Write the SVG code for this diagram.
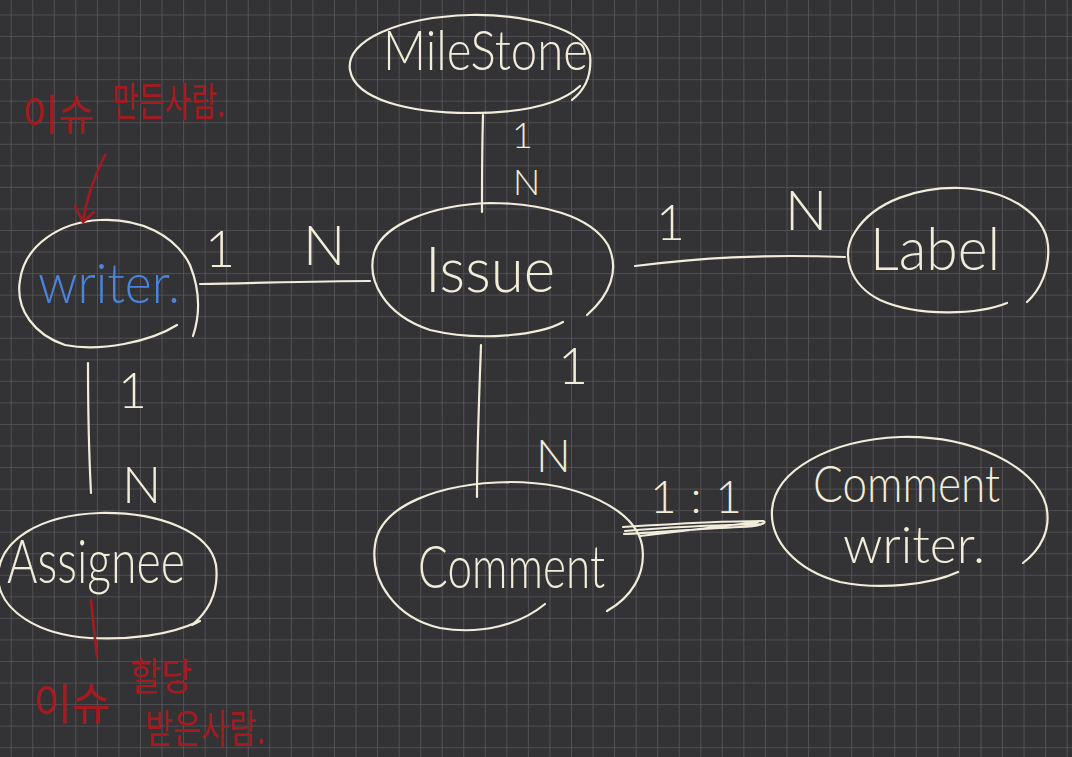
<svg xmlns="http://www.w3.org/2000/svg" width="1072" height="757" viewBox="0 0 1072 757">
<defs>
<pattern id="grid" x="10.7" y="14.5" width="21.55" height="21.55" patternUnits="userSpaceOnUse">
<path d="M0,0 H21.55 M0,0 V21.55" stroke="#58585c" stroke-width="1.6" fill="none"/>
</pattern>
<style>
.ink{fill:none;stroke:#f1edda;stroke-width:2.2;stroke-linecap:round;stroke-linejoin:round}
.red{fill:none;stroke:#a31a1f;stroke-width:2.6;stroke-linecap:round;stroke-linejoin:round}
.t{font-family:Lato,"Liberation Sans","Noto Sans",sans-serif;font-weight:300;fill:#f1edda}
.b{fill:#4a84dd}
.rt{font-family:"Noto Sans CJK KR","Noto Sans",sans-serif;fill:#a31a1f;font-weight:400}
</style>
</defs>
<rect width="1072" height="757" fill="#333336"/>
<rect width="1072" height="757" fill="url(#grid)"/>

<g id="connectors">
<path class="ink" d="M200,284 C260,283 320,281 370,281"/>
<path class="ink" d="M483,115 C482,150 482,180 482,212"/>
<path class="ink" d="M635,266 C700,258 760,254 845,257"/>
<path class="ink" d="M481,345 C479,400 477,450 477,497"/>
<path class="ink" d="M88,363 C88,410 89,455 91,493"/>
<path class="ink" d="M623,527 C670,524 720,521 763,521 C768,523 760,526 740,527 C700,529 660,532 624,534 M625,531 C670,527 720,525 762,524 M640,536 C690,530 730,525 758,522"/>
<text class="t" x="205" y="267" font-size="52">1</text>
<text class="t" x="303" y="265" font-size="56">N</text>
<text class="t" x="512" y="148" font-size="36">1</text>
<text class="t" x="513" y="195" font-size="36">N</text>
<text class="t" x="656" y="240" font-size="50">1</text>
<text class="t" x="785" y="230" font-size="56">N</text>
<text class="t" x="558" y="384" font-size="52">1</text>
<text class="t" x="536" y="472" font-size="46">N</text>
<text class="t" x="118" y="408" font-size="50">1</text>
<text class="t" x="122" y="503" font-size="52">N</text>
<text class="t" x="650" y="513" font-size="46" textLength="92" lengthAdjust="spacing">1 : 1</text>
</g>

<g id="node-milestone">
<path class="ink" d="M580,86 C560,105 520,113 470,113 C410,113 355,100 350,70 C345,40 400,17 470,15 C530,14 585,30 590,55 C592,75 585,90 572,100"/>
<text class="t" x="383" y="70" font-size="56" textLength="205" lengthAdjust="spacingAndGlyphs">MileStone</text>
</g>

<g id="node-writer">
<path class="ink" d="M177,325 C150,342 100,352 65,345 C35,335 15,310 20,280 C25,245 60,222 100,220 C140,218 175,235 190,265 C200,290 200,315 193,336"/>
<text class="t b" x="38" y="303" font-size="56" textLength="142" lengthAdjust="spacingAndGlyphs">writer.</text>
</g>

<g id="node-issue">
<path class="ink" d="M587,315 C610,295 620,270 608,245 C590,215 540,203 490,203 C430,205 385,225 375,250 C365,280 385,315 430,330 C480,342 540,335 563,322"/>
<text class="t" x="425" y="292" font-size="64" textLength="130" lengthAdjust="spacingAndGlyphs">Issue</text>
</g>

<g id="node-label">
<path class="ink" d="M1007,303 C980,314 920,318 880,300 C850,285 840,255 855,232 C875,200 920,187 960,188 C1010,190 1045,215 1048,245 C1050,270 1040,290 1027,302"/>
<text class="t" x="870" y="270" font-size="60" textLength="130" lengthAdjust="spacingAndGlyphs">Label</text>
</g>

<g id="node-assignee">
<path class="ink" d="M197,622 C170,635 130,640 90,638 C40,635 0,612 -2,578 C-2,540 40,515 100,513 C160,512 210,532 216,565 C219,590 210,610 192,625 L200,621"/>
<text class="t" x="7" y="583" font-size="62" textLength="178" lengthAdjust="spacingAndGlyphs">Assignee</text>
</g>

<g id="node-comment">
<path class="ink" d="M545,604 C520,625 480,635 440,628 C395,618 370,580 375,545 C380,505 440,483 510,482 C580,482 635,510 642,545 C647,575 630,598 607,611"/>
<text class="t" x="418" y="588" font-size="60" textLength="187" lengthAdjust="spacingAndGlyphs">Comment</text>
</g>

<g id="node-comment-writer">
<path class="ink" d="M958,572 C930,585 880,590 840,582 C795,570 770,540 772,510 C775,470 830,440 900,437 C970,435 1035,465 1046,505 C1052,530 1040,550 1023,563"/>
<text class="t" x="813" y="502" font-size="52" textLength="187" lengthAdjust="spacingAndGlyphs">Comment</text>
<text class="t" x="843" y="563" font-size="52" textLength="142" lengthAdjust="spacingAndGlyphs">writer.</text>
</g>

<g id="annotation-writer">
<text class="rt" x="22" y="130" font-size="42" textLength="72" lengthAdjust="spacingAndGlyphs">이슈</text>
<text class="rt" x="112" y="116" font-size="40" textLength="113" lengthAdjust="spacingAndGlyphs">만든사람.</text>
<path class="red" d="M105,155 C95,175 86,200 83,222 M75,206 L83,222 L94,212"/>
</g>

<g id="annotation-assignee">
<path class="red" d="M91,600 C93,620 95,640 97,656"/>
<text class="rt" x="33" y="720" font-size="44" textLength="77" lengthAdjust="spacingAndGlyphs">이슈</text>
<text class="rt" x="130" y="690" font-size="38" textLength="62" lengthAdjust="spacingAndGlyphs">할당</text>
<text class="rt" x="145" y="743" font-size="40" textLength="120" lengthAdjust="spacingAndGlyphs">받은사람.</text>
</g>
</svg>
